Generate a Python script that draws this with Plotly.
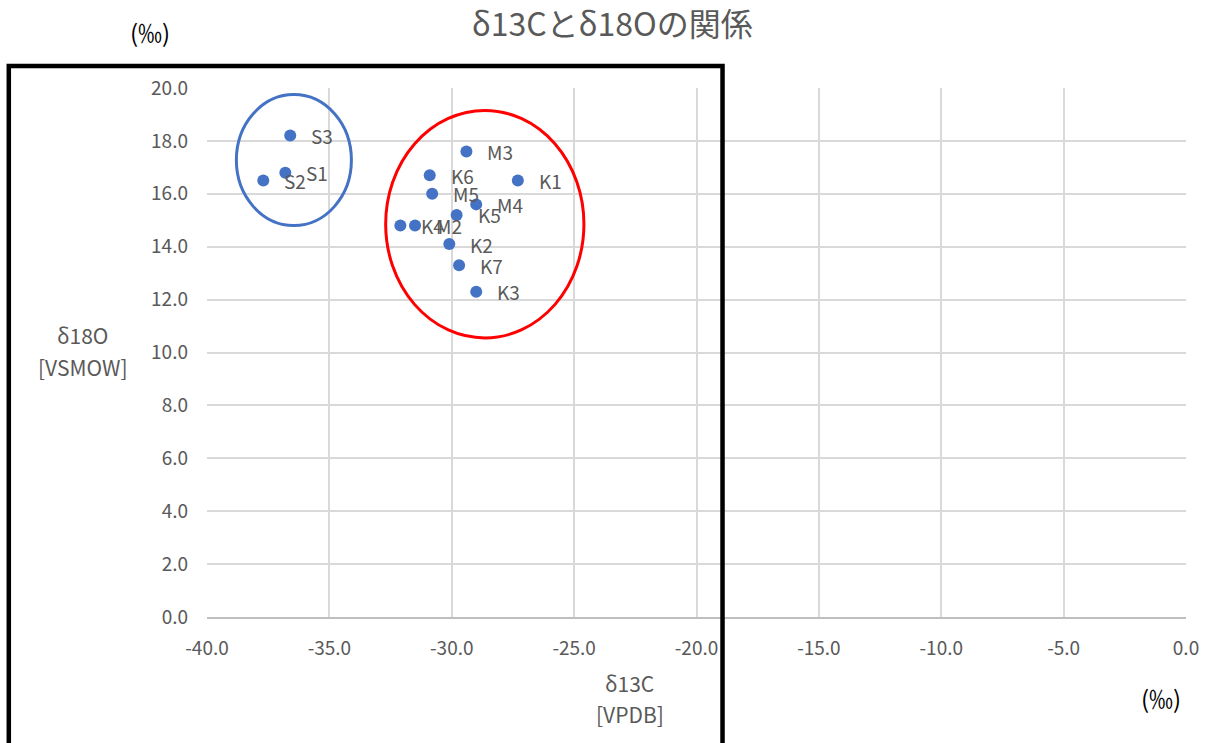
import plotly.graph_objects as go

# Sample isotope values (‰)
samples = ["S1", "S2", "S3",
           "K1", "K2", "K3", "K4", "K5", "K6", "K7",
           "M2", "M3", "M4", "M5"]
d13c = [-36.8, -37.7, -36.6,
        -27.3, -30.1, -29.0, -32.1, -29.8, -30.9, -29.7,
        -31.5, -29.4, -29.0, -30.8]
d18o = [16.8, 16.5, 18.2,
        16.5, 14.1, 12.3, 14.8, 15.2, 16.7, 13.3,
        14.8, 17.6, 15.6, 16.0]

x_ticks = [-40, -35, -30, -25, -20, -15, -10, -5, 0]
y_ticks = [0, 2, 4, 6, 8, 10, 12, 14, 16, 18, 20]

# group outlines (data coordinates): S group and K/M group
s_group = dict(x0=-38.8, x1=-34.1, y0=14.8, y1=19.75)
km_group = dict(x0=-32.7, x1=-24.6, y0=10.55, y1=19.15)

GRAY = "#595959"
FONT = "Noto Sans CJK JP"

fig = go.Figure()
fig.add_trace(go.Scatter(
    x=d13c, y=d18o, mode="markers",
    marker=dict(size=12, color="#4472C4"),
    cliponaxis=False, showlegend=False,
))

# data labels to the right of each point
for name, xv, yv in zip(samples, d13c, d18o):
    fig.add_annotation(x=xv, y=yv, xref="x", yref="y", text=name,
                       showarrow=False, xanchor="left", yanchor="middle",
                       xshift=19, font=dict(family=FONT, size=19, color=GRAY))

fig.update_layout(
    width=1210, height=743,
    margin=dict(l=207, r=24, t=88, b=126),
    paper_bgcolor="white", plot_bgcolor="white",
    font=dict(family=FONT, color=GRAY),
    title=dict(text="δ13Cとδ18Oの関係", x=0.506, xanchor="center",
               y=0.966, yanchor="middle",
               font=dict(family=FONT, size=32, color=GRAY)),
    xaxis=dict(range=[-40, 0], tickvals=x_ticks,
               ticktext=[f"{v:.1f}" for v in x_ticks],
               showgrid=True, gridcolor="#d9d9d9", gridwidth=1.5,
               zeroline=False, showline=True, linecolor="#bfbfbf",
               linewidth=1.5, ticks="", ticklabelstandoff=13,
               tickfont=dict(size=19, color=GRAY, family=FONT)),
    yaxis=dict(range=[0, 20], tickvals=y_ticks,
               ticktext=[f"{v:.1f}" for v in y_ticks],
               showgrid=True, gridcolor="#d9d9d9", gridwidth=1.5,
               zeroline=False, showline=False, ticks="",
               ticklabelstandoff=18,
               tickfont=dict(size=19, color=GRAY, family=FONT)),
)

# axis titles (two lines each)
for txt, xp, yp in [("δ18O", -0.1268, 0.533), ("[VSMOW]", -0.1268, 0.4726),
                    ("δ13C", 0.432, -0.1248), ("[VPDB]", 0.432, -0.1834)]:
    fig.add_annotation(text=txt, xref="paper", yref="paper", x=xp, y=yp,
                       xanchor="center", yanchor="middle", showarrow=False,
                       font=dict(family=FONT, size=21, color=GRAY))

# unit labels
for xp, yp in [(-0.0583, 1.1059), (0.9744, -0.1531)]:
    fig.add_annotation(text="(‰)", xref="paper", yref="paper", x=xp, y=yp,
                       xanchor="center", yanchor="middle", showarrow=False,
                       font=dict(family=FONT, size=24, color="black"))

# ellipses around the sample groups
fig.add_shape(type="circle", xref="x", yref="y", **s_group,
              line=dict(color="#4472C4", width=3))
fig.add_shape(type="circle", xref="x", yref="y", **km_group,
              line=dict(color="#FF0000", width=3))

# black frame
fig.add_shape(type="rect", xref="paper", yref="paper",
              x0=(9 - 207) / 978, x1=(722 - 207) / 978,
              y0=(617 - 770) / 529, y1=(617 - 66) / 529,
              line=dict(color="black", width=4.5))

fig.write_html("out.html")
